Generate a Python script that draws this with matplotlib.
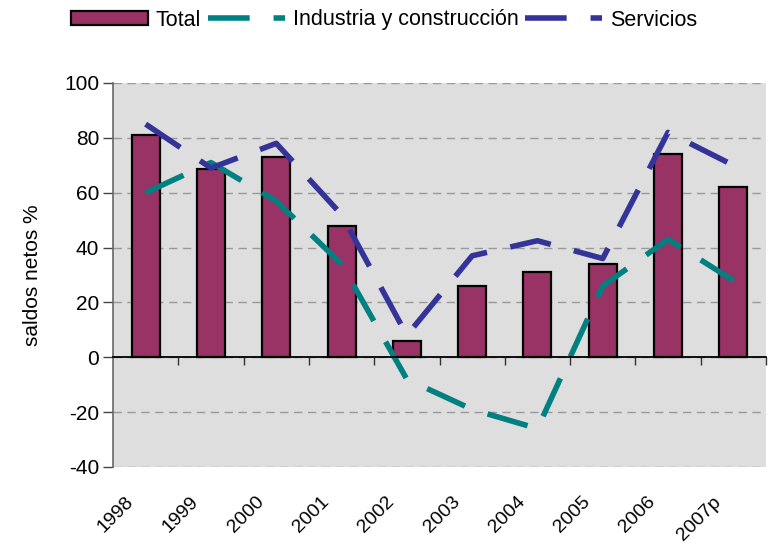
import matplotlib
matplotlib.use("Agg")
import matplotlib.pyplot as plt
import matplotlib.transforms as mtransforms
from matplotlib.patches import Patch
from matplotlib.lines import Line2D
import numpy as np

plt.rcParams['font.family'] = ['Liberation Sans', 'DejaVu Sans']
plt.rcParams['axes.unicode_minus'] = False

years = ['1998', '1999', '2000', '2001', '2002', '2003', '2004', '2005', '2006', '2007p']
total = [81, 68.5, 73, 48, 6, 26, 31, 34, 74, 62]
industria = [60, 71, 57, 34, -8, -19, -26, 26, 43, 28]
servicios = [85, 69, 78, 52, 8, 37, 42.5, 36, 82, 70]

bar_color = '#993366'
teal = '#008080'
navy = '#333399'

fig = plt.figure(figsize=(7.68, 5.45), dpi=100)
ax = fig.add_axes([113/768, 1 - 467/545, 653/768, 384/545])
ax.set_facecolor('#dedede')

x = np.arange(len(years))
ax.bar(x, total, width=0.43, color=bar_color, edgecolor='black', linewidth=1.6, zorder=3)

lw = 4.0
dash = (7.5, 4.3)
l1, = ax.plot(x, industria, color=teal, linewidth=lw, zorder=4, dash_capstyle='butt')
l1.set_dashes(dash)
l2, = ax.plot(x, servicios, color=navy, linewidth=lw, zorder=5, dash_capstyle='butt')
l2.set_dashes(dash)

ymin, ymax = -40, 100
ax.set_ylim(ymin, ymax)
ax.set_xlim(-0.5, len(years) - 0.5)
ax.set_yticks(np.arange(-40, 101, 20))
ax.yaxis.grid(True, color='#999999', linestyle=(0, (6, 4)), linewidth=1.0, zorder=0)
ax.set_axisbelow(True)

for s in ['top', 'right', 'bottom']:
    ax.spines[s].set_visible(False)
ax.spines['left'].set_color('#666666')
ax.spines['left'].set_linewidth(1.2)
ax.tick_params(axis='y', direction='out', length=7, width=1, color='#444444', labelsize=15, pad=3)

# category labels at the bottom
ax.set_xticks(x)
ax.set_xticklabels(years, rotation=45, ha='right', rotation_mode='anchor', fontsize=14)
ax.tick_params(axis='x', length=0, pad=19)
offset = mtransforms.ScaledTranslation(-21/100, 0, fig.dpi_scale_trans)
for lab in ax.get_xticklabels():
    lab.set_transform(lab.get_transform() + offset)

# zero axis line with boundary ticks
zero_loc = (0 - ymin) / (ymax - ymin)
sec = ax.secondary_xaxis(zero_loc)
sec.set_xticks(np.arange(0.5, len(years) + 0.5, 1.0))
sec.set_xticklabels([])
sec.spines['bottom'].set_color('black')
sec.spines['bottom'].set_linewidth(1.3)
sec.tick_params(direction='out', length=6, width=1, color='#333333')
sec.set_zorder(6)

ax.set_ylabel('saldos netos %', fontsize=15, labelpad=16)

handles = [Patch(facecolor=bar_color, edgecolor='black', linewidth=1.6),
           Line2D([0], [0], color=teal, linewidth=lw, dashes=dash, dash_capstyle='butt'),
           Line2D([0], [0], color=navy, linewidth=lw, dashes=dash, dash_capstyle='butt')]
fig.legend(handles, ['Total', 'Industria y construcción', 'Servicios'], loc='center',
           bbox_to_anchor=(0.5, 1 - 20/545), ncol=3, frameon=False, fontsize=15.5,
           handlelength=3.6, handletextpad=0.35, columnspacing=0.3, handleheight=0.65)

fig.savefig('out.png', dpi=100)
